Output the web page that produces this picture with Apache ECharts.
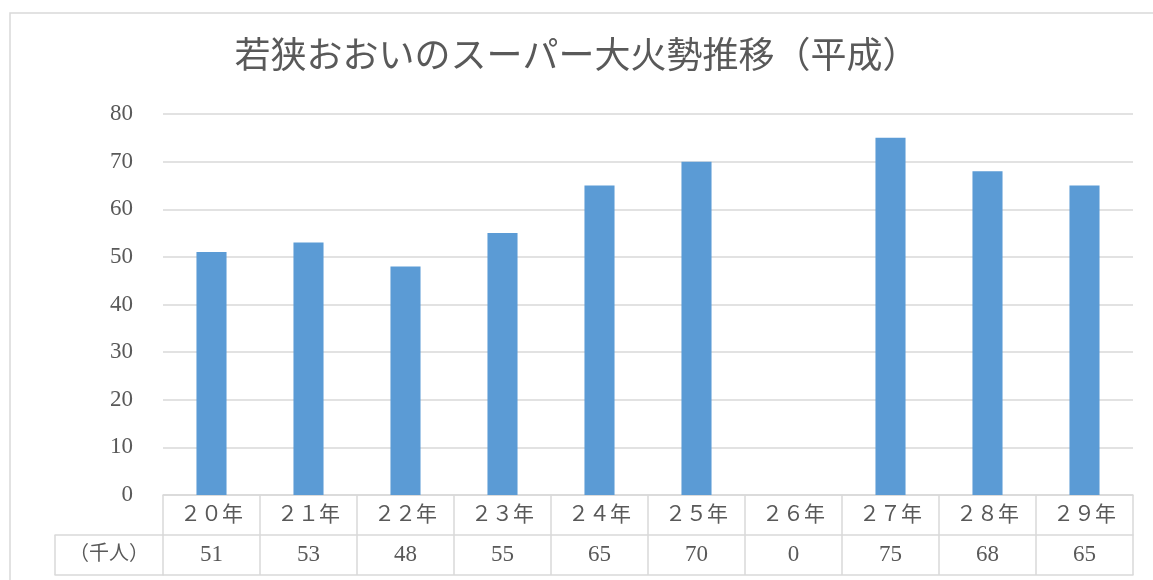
<!DOCTYPE html>
<html>
<head>
<meta charset="utf-8">
<script src="https://cdn.jsdelivr.net/npm/echarts@6/dist/echarts.min.js"></script>
<style>html,body{margin:0;padding:0;background:#fff}#c{width:1153px;height:580px}</style>
</head>
<body>
<div id="c"></div>
<script>
const titleText = '若狭おおいのスーパー大火勢推移（平成）';
const categories = ['２０年','２１年','２２年','２３年','２４年','２５年','２６年','２７年','２８年','２９年'];
const values = [51, 53, 48, 55, 65, 70, 0, 75, 68, 65];
const unitLabel = ['（千人）'];
const yTicks = {min: 0, max: 80, interval: 10};

const txt = '#595959';
const line = '#d9d9d9';
const ff = "'Liberation Serif','Noto Sans CJK JP',serif";

const chart = echarts.init(document.getElementById('c'), null, {renderer: 'canvas'});
chart.setOption({
  animation: false,
  backgroundColor: '#fff',
  title: {
    text: titleText, left: 'center', top: 36,
    textStyle: {color: txt, fontSize: 36, fontWeight: 'normal', fontFamily: ff}
  },
  graphic: [{
    type: 'rect', silent: true, z: -1,
    shape: {x: 10, y: 13, width: 1170, height: 620},
    style: {fill: 'none', stroke: line, lineWidth: 1.5}
  }],
  grid: [
    {left: 163, right: 20, top: 114, bottom: 85},
    {left: 55, width: 108, top: 114, bottom: 85}
  ],
  xAxis: [
    {
      type: 'category', gridIndex: 0, data: categories, position: 'bottom',
      axisLine: {show: true, onZero: false, lineStyle: {color: line, width: 1.5}},
      axisTick: {show: true, interval: 0, length: 80, lineStyle: {color: line, width: 1.5}},
      axisLabel: {color: txt, fontSize: 21, fontFamily: ff, margin: 20, verticalAlign: 'middle', interval: 0}
    },
    {
      type: 'category', gridIndex: 0, data: values.map(String), position: 'bottom', offset: 40,
      axisLine: {show: true, onZero: false, lineStyle: {color: line, width: 1.5}},
      axisTick: {show: false},
      axisLabel: {color: txt, fontSize: 23, fontFamily: ff, margin: 20, verticalAlign: 'middle', interval: 0}
    },
    {
      type: 'category', gridIndex: 0, data: categories, position: 'bottom', offset: 80,
      axisLine: {show: true, onZero: false, lineStyle: {color: line, width: 1.5}},
      axisTick: {show: false}, axisLabel: {show: false}
    },
    {
      type: 'category', gridIndex: 1, data: unitLabel, position: 'bottom', offset: 40,
      axisLine: {show: true, onZero: false, lineStyle: {color: line, width: 1.5}},
      axisTick: {show: true, interval: 0, length: 40, lineStyle: {color: line, width: 1.5}},
      axisLabel: {color: txt, fontSize: 20, fontFamily: ff, margin: 20, verticalAlign: 'middle', interval: 0}
    },
    {
      type: 'category', gridIndex: 1, data: unitLabel, position: 'bottom', offset: 80,
      axisLine: {show: true, onZero: false, lineStyle: {color: line, width: 1.5}},
      axisTick: {show: false}, axisLabel: {show: false}
    }
  ],
  yAxis: [
    {
      type: 'value', gridIndex: 0, min: yTicks.min, max: yTicks.max, interval: yTicks.interval,
      axisLine: {show: false}, axisTick: {show: false},
      splitLine: {lineStyle: {color: line, width: 1.5}},
      axisLabel: {color: txt, fontSize: 23, fontFamily: ff, margin: 30}
    },
    {
      type: 'value', gridIndex: 1, min: yTicks.min, max: yTicks.max, show: false,
      splitLine: {show: false}
    }
  ],
  series: [{
    type: 'bar', xAxisIndex: 0, yAxisIndex: 0, data: values,
    barWidth: '31%',
    itemStyle: {color: '#5b9bd5'}
  }]
});
</script>
</body>
</html>
